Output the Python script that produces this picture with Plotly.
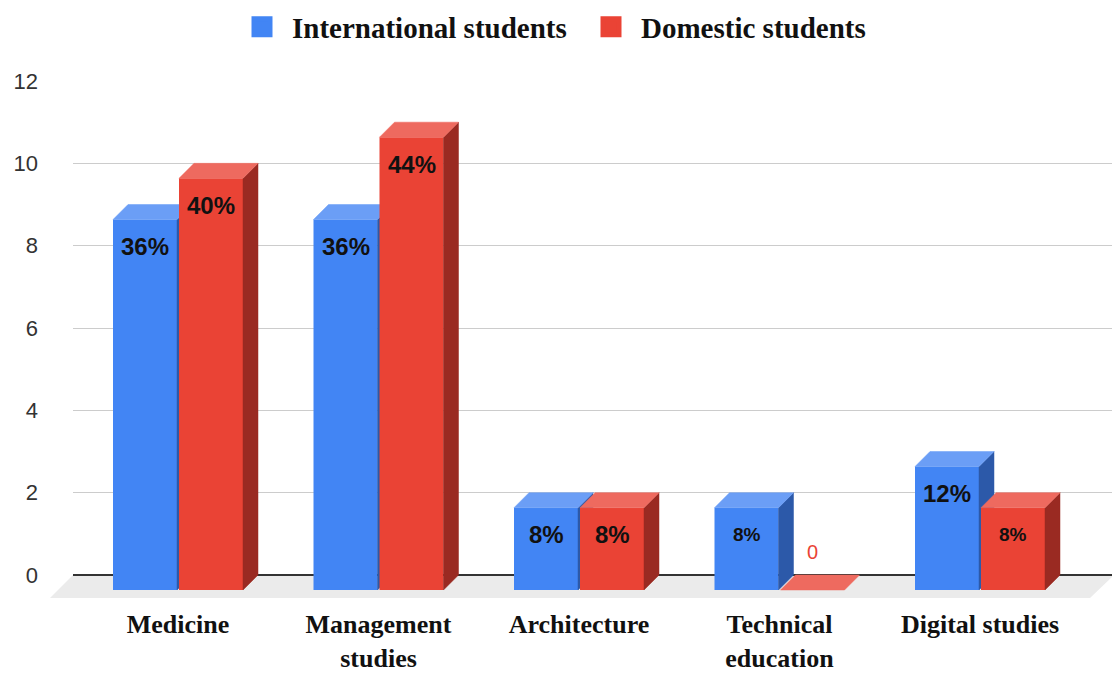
import plotly.graph_objects as go

# ---- data ----
categories = ["Medicine", "Management<br>studies", "Architecture", "Technical<br>education", "Digital studies"]
international = [9, 9, 2, 2, 3]
domestic = [10, 11, 2, 0, 2]
series_names = ["International students", "Domestic students"]

# ---- styling ----
W, H = 1112, 675
BLUE = dict(front="#4285f4", top="#6b9ef6", side="#2c59a9")
RED = dict(front="#ea4335", top="#ee6a5f", side="#9a2a22")
SERIF = "Liberation Serif, Times New Roman, serif"
SANS = "Arial, Liberation Sans, sans-serif"

# pixel geometry of the pseudo-3D frame
left_px, right_px = 73, 1112
top_px, bottom_px = 81, 600          # plot area (value 12 on back plane at top)
back_zero_px = 575                   # zero on the back plane
depth_px = 15                        # offset between front and back planes
unit_y = (back_zero_px - top_px) / 12.0
cat_step = 200.5
cat0_px = 178

dx = depth_px / cat_step
dy = depth_px / unit_y
bar_w = 64 / cat_step
gap = 1 / cat_step

ydom = [1 - bottom_px / H, 1 - top_px / H]
xdom = [left_px / W, right_px / W]
back_yrange = [-(bottom_px - back_zero_px) / unit_y, 12]
front_yrange = [back_yrange[0] + dy, 12 + dy]
front_xrange = [(left_px - cat0_px) / cat_step, (right_px - cat0_px) / cat_step]

fig = go.Figure()

# empty trace so the back-plane subplot (grid + value axis) is built
fig.add_trace(go.Scatter(x=[], y=[], xaxis="x", yaxis="y", showlegend=False, hoverinfo="skip"))


def add_series(values, name, col, offset, xa, ya):
    xs = list(range(len(values)))
    fig.add_trace(go.Bar(
        x=xs, y=values, width=bar_w, offset=offset, name=name,
        marker=dict(color=col["front"], line=dict(width=0)),
        xaxis=xa, yaxis=ya, hoverinfo="skip", showlegend=False))
    top_x, top_y, side_x, side_y = [], [], [], []
    for i, v in enumerate(values):
        xl = i + offset
        xr = xl + bar_w
        top_x += [xl, xr, xr + dx, xl + dx, xl, None]
        top_y += [v, v, v + dy, v + dy, v, None]
        if v > 0:
            side_x += [xr, xr + dx, xr + dx, xr, xr, None]
            side_y += [0, dy, v + dy, v, 0, None]
    for px, py, c in ((side_x, side_y, col["side"]), (top_x, top_y, col["top"])):
        fig.add_trace(go.Scatter(
            x=px, y=py, mode="lines", fill="toself", fillcolor=c,
            line=dict(width=0.5, color=c), xaxis=xa, yaxis=ya,
            hoverinfo="skip", showlegend=False))
    # legend entry with a larger square swatch
    fig.add_trace(go.Scatter(
        x=[None], y=[None], mode="markers", name=name, xaxis=xa, yaxis=ya,
        marker=dict(symbol="square", size=16, color=col["front"],
                    line=dict(width=5, color=col["front"])),
        showlegend=True))


blue_off = -gap - bar_w
red_off = gap
add_series(international, series_names[0], BLUE, blue_off, "x2", "y2")
add_series(domestic, series_names[1], RED, red_off, "x3", "y3")

# ---- value labels (share of each series total) ----
int_sizes = [24, 24, 24, 19, 24]
dom_sizes = [24, 24, 24, 20, 19]
annotations = []
for values, off, xr, yr, sizes in ((international, blue_off, "x2", "y2", int_sizes),
                                   (domestic, red_off, "x3", "y3", dom_sizes)):
    total = sum(values)
    for i, v in enumerate(values):
        cx = i + off + bar_w / 2
        if v > 0:
            annotations.append(dict(
                x=cx, y=v, xref=xr, yref=yr, yshift=-27, showarrow=False,
                text=f"{round(v / total * 100)}%",
                font=dict(family=SANS, size=sizes[i], color="#111111", weight="bold")))
        else:
            annotations.append(dict(
                x=cx, y=v, xref=xr, yref=yr, yshift=38, showarrow=False,
                text=str(v), font=dict(family=SANS, size=20, color=RED["front"])))

# ---- floor slab ----
floor = [(left_px, back_zero_px), (W + 2, back_zero_px), (W - 22, 598), (50, 598)]
path = "M " + " L ".join(f"{x / W:.5f},{1 - y / H:.5f}" for x, y in floor) + " Z"

hidden = dict(visible=False, showgrid=False, zeroline=False, automargin=False)
fig.update_layout(
    width=W, height=H, autosize=False,
    margin=dict(l=0, r=0, t=0, b=0, autoexpand=False),
    paper_bgcolor="white", plot_bgcolor="rgba(0,0,0,0)",
    barmode="overlay",
    shapes=[dict(type="path", path=path, xref="paper", yref="paper",
                 fillcolor="#ebebeb", line=dict(width=0), layer="below")],
    annotations=annotations,
    legend=dict(orientation="h", x=0.5 + 25 / W, xanchor="center", y=1 - 27 / H,
                yanchor="middle",
                font=dict(family=SERIF, size=29, color="#111111", weight="bold"),
                bgcolor="rgba(0,0,0,0)", itemsizing="trace", itemwidth=50,
                entrywidth=284),
    xaxis=dict(domain=xdom, range=[0, 1], showticklabels=False, showgrid=False,
               zeroline=False, showline=False, fixedrange=True, automargin=False),
    yaxis=dict(domain=ydom, range=back_yrange, tickmode="array",
               tickvals=list(range(0, 13, 2)), showgrid=True, gridcolor="#cccccc",
               gridwidth=1, zeroline=True, zerolinecolor="#333333", zerolinewidth=1.5,
               showline=False, ticks="", ticklabelstandoff=34, automargin=False,
               tickfont=dict(family=SANS, size=22, color="#333333")),
    xaxis2=dict(domain=xdom, overlaying="x", range=front_xrange, tickmode="array",
                tickvals=list(range(len(categories))), ticktext=categories,
                showgrid=False, zeroline=False, showline=False, ticks="",
                ticklabelstandoff=6, automargin=False,
                tickfont=dict(family=SERIF, size=26, color="#111111", weight="bold")),
    yaxis2=dict(domain=ydom, overlaying="y", range=front_yrange, **hidden),
    xaxis3=dict(domain=xdom, overlaying="x", range=front_xrange, **hidden),
    yaxis3=dict(domain=ydom, overlaying="y", range=front_yrange, **hidden),
)

fig.write_html("out.html")
